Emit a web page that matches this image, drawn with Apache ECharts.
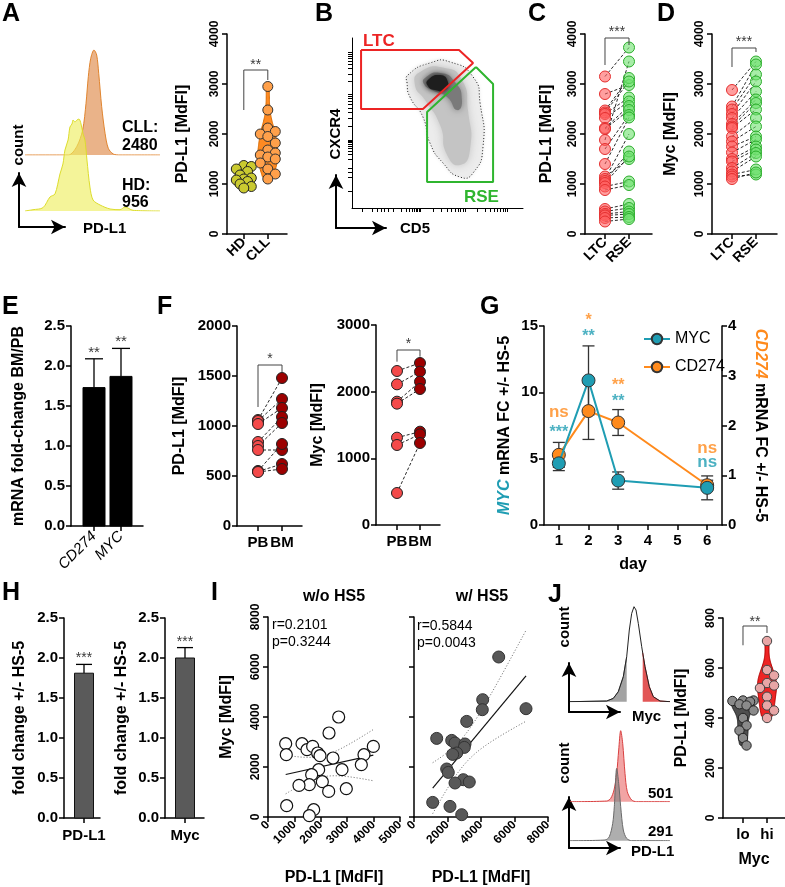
<!DOCTYPE html>
<html><head><meta charset="utf-8">
<script src="https://cdn.jsdelivr.net/npm/echarts@6/dist/echarts.min.js"></script>
<style>html,body{margin:0;padding:0;background:#fff}#c{width:785px;height:887px}</style>
</head><body><div id="c"></div><script>
// ---------------- DATA ----------------
// A
const histA_HD = [[0,0],[5.9,1.3],[13.3,3.3],[18.5,14],[22.2,17],[25.9,37],[28.1,47],[29.6,61],[31.9,71],[33.3,84],[34.8,87],[35.6,91],[37,89],[38.5,91],[40,92],[41.5,87],[43,77],[44.4,71],[45.9,51],[48.1,24],[50.4,11],[55.6,6],[63,2],[70.4,1.3],[74.1,4],[80,0.7],[100,0]];
const histA_CLL = [[0,0],[32.1,0],[38.3,8.3],[42.7,25],[45.2,51.7],[46.9,78.3],[48.7,96.7],[51.1,105],[53.1,100],[54.6,81.7],[56.8,48.3],[59.3,21.7],[61.7,6.7],[65.4,1],[70.4,0],[100,0]];
const catsA = ['HD','CLL'];
const pdl1_HD = [1370,1350,1300,1250,1180,1120,1100,1080,1050,1000,950,920];
const pdl1_CLL = [2950,2480,2120,2050,2000,1950,1820,1680,1620,1580,1540,1500,1420,1300,1200,1100];
// B (arbitrary 0-100 biexponential display units)
const gateLTC = [[5.3,92.9],[62.6,92.9],[70.8,85.3],[41.5,58.2],[5.3,58.2],[5.3,92.9]];
const gateRSE = [[72.5,82.9],[82.5,72.9],[82.5,15.3],[43.9,15.3],[43.9,56.5],[72.5,82.9]];
const densOuter = [[32.7,78.2],[45.6,85.3],[57.3,85.9],[70.8,77.1],[74.9,61.8],[76.6,35.9],[70.8,20.6],[63.2,18.2],[53.2,26.5],[45.6,38.2],[41.5,53.5],[33.9,65.3],[32.2,73.5]];
const densMid = [[39.8,80.0],[54.4,82.4],[64.3,75.3],[67.8,57.6],[69,34.1],[63.2,25.3],[55.6,31.2],[51.5,48.8],[42.7,63.5],[36.8,72.4]];
const densInner = [[42.7,76.5],[51.5,79.4],[60.2,74.1],[64.3,63.5],[61.4,57.6],[55.6,65.3],[46.8,69.4],[42.1,72.9]];
const densCore = [[44.4,75.3],[51.5,78.2],[56.1,74.1],[54.4,69.4],[48.5,69.4],[44.4,71.8]];
// C
const catsCD = ['LTC','RSE'];
const pdl1_LTC = [3150,2800,2470,2430,2400,2320,2120,2100,1880,1700,1400,1150,1100,1060,1020,950,880,500,450,400,370,320,250];
const pdl1_RSE = [3730,2980,3120,3050,2730,2650,2560,2480,3450,2380,2330,1500,2000,1650,1550,1050,980,600,520,450,400,340,300];
// D
const myc_LTC = [2880,2550,2490,2400,2320,2200,2150,2120,1950,1850,1750,1630,1500,1450,1320,1250,1190,1150,1100];
const myc_RSE = [3450,3390,3190,3050,2850,2690,2620,2490,2320,2150,1950,1890,1750,1690,1620,1550,1290,1190,1230];
// E
const catsE = ['CD274','MYC'];
const foldE = [1.73,1.87];
const errE = [0.36,0.35];
// F
const catsF = ['PB','BM'];
const pdl1_PB = [1060,1050,1020,840,800,760,550,545,540];
const pdl1_BM = [1480,1270,1180,1090,1030,760,820,620,570];
const myc_PB = [2310,2110,1850,1820,1310,1200,480];
const myc_BM = [2430,2300,2150,2040,1400,1360,1230];
// G
const days = [1,2,3,6];
const dayTicks = [1,2,3,4,5,6];
const mycFC = [4.65,10.9,3.35,2.8];
const mycErr = [0.55,2.6,0.65,0.9];
const cd274FC = [1.41,2.29,2.06,0.80];
const cd274Err = [0.25,0.57,0.26,0.1];
const sigDay = [1,1,2,2,3,3,6,6];
const sigText = ['ns','***','*','**','**','**','ns','ns'];
const sigGene = ['CD274','MYC','CD274','MYC','CD274','MYC','CD274','MYC'];
const sigY = [8.5,7.3,15.7,14.5,10.8,9.65,5.8,4.75];
// H
const catsH = ['PD-L1','Myc'];
const foldH = [1.81,2.0];
const errH = [0.11,0.13];
// I
const noHS5_pdl1 = [670,693,1288,1477,1692,1881,1970,2311,2462,2677,3990,3636,3535,2803,1919,1654,1566,1174,2058,2298,2966,707,1730,1566];
const noHS5_myc  = [2932,2492,2932,2692,2824,2560,2452,3360,2360,4000,2824,2492,2092,1892,1892,1692,1292,1264,1412,1024,1132,452,292,52];
const HS5_pdl1 = [5057,4101,4078,6687,3146,1355,2251,2448,3045,3003,2549,2310,1952,2048,2943,3301,2448,1116,2149,2848];
const HS5_myc  = [6400,4692,4292,4332,3824,3144,3064,2960,2920,2784,2560,2504,1920,1784,1492,1400,1360,584,424,92];
// J
const jMycHist = [[0,0],[36.7,0.7],[43.3,3.3],[48.3,10],[53.3,25],[56.7,45],[59.3,71.7],[61.7,88.3],[64,95],[66,91.7],[68.3,78.3],[71.7,55],[75,35],[79.3,15],[83.3,5],[90,0.7],[100,0]];
const jGates = [56.7,72.7];
const jHiHist = [[0,0],[36.7,0.7],[40.7,3.3],[44,11.7],[46.7,28.3],[48.7,51.7],[50.7,71],[52.7,58.3],[55,28.3],[57.3,10],[61.7,1.7],[66.7,0],[100,0]];
const jLoHist = [[0,0],[35,0.7],[39.3,4],[42.7,17.3],[44.3,34],[46.7,72.3],[48.7,57.3],[50.7,34],[53.3,10.7],[56.7,2.3],[61.7,0],[100,0]];
const catsJ = ['lo','hi'];
const pdl1_lo = [470,470,468,465,455,450,430,400,370,350,320,290];
const pdl1_hi = [708,592,570,540,530,520,485,450,430,400];

// ---------------- HELPERS ----------------
const FONT = '"Liberation Sans", Arial, Helvetica, sans-serif';
const TEAL = '#1f9db3', ORANGE = '#ff8a1c';
const grid=[], xAxis=[], yAxis=[], series=[], graphic=[];
function addGrid(l,t,w,h){grid.push({left:l,top:t,width:w,height:h,containLabel:false,outerBoundsMode:'none'});return grid.length-1;}
function mkAxis(o){
  const a={type:'value',gridIndex:o.grid,min:o.min,max:o.max,position:o.position,
    axisLine:{show:true,onZero:false,lineStyle:{color:'#000',width:o.lw||1.5}},
    axisTick:{show:o.tick!==false,length:o.tickLen||5,lineStyle:{color:'#000',width:o.lw||1.5}},
    axisLabel:{show:o.label!==false,color:'#000',fontFamily:FONT,fontWeight:o.fw||'bold',fontStyle:o.fs||'normal',fontSize:o.size||14,rotate:o.rotate||0,margin:o.margin!=null?o.margin:6,hideOverlap:false,
      formatter:o.fmt||(v=>String(v))},
    splitLine:{show:false},minorTick:{show:false},
    name:o.name||'',nameLocation:'middle',nameGap:o.nameGap||30,nameMoveOverlap:false,
    nameTextStyle:{color:'#000',fontFamily:FONT,fontWeight:'bold',fontSize:o.nameSize||16,rich:o.rich}};
  if(o.nameRotate!=null)a.nameRotate=o.nameRotate;
  if(o.interval!=null)a.interval=o.interval;
  if(o.ticks){a.axisTick.customValues=o.ticks;a.axisLabel.customValues=o.ticks;}
  return a;
}
function addX(o){xAxis.push(mkAxis(o));return xAxis.length-1;}
function addY(o){yAxis.push(mkAxis(o));return yAxis.length-1;}
function hidX(g,min,max){xAxis.push({type:'value',gridIndex:g,min,max,show:false});return xAxis.length-1;}
function hidY(g,min,max){yAxis.push({type:'value',gridIndex:g,min,max,show:false});return yAxis.length-1;}
function arrowAxes(g){
  const ax={type:'value',gridIndex:g,min:0,max:1,axisLine:{show:true,onZero:false,symbol:['none','arrow'],symbolSize:[11,14],lineStyle:{color:'#000',width:2}},axisTick:{show:false},axisLabel:{show:false},splitLine:{show:false}};
  xAxis.push(JSON.parse(JSON.stringify(ax)));yAxis.push(JSON.parse(JSON.stringify(ax)));
}
function kde(vals,steps){
  const n=vals.length,mean=vals.reduce((a,b)=>a+b,0)/n;
  const sd=Math.sqrt(vals.reduce((a,b)=>a+(b-mean)*(b-mean),0)/(n-1));
  const h=1.06*sd*Math.pow(n,-0.2)*0.75;
  const lo=Math.min(...vals),hi=Math.max(...vals),out=[];
  for(let i=0;i<=steps;i++){const y=lo+(hi-lo)*i/steps;let d=0;vals.forEach(v=>{d+=Math.exp(-0.5*Math.pow((y-v)/h,2));});out.push([y,d]);}
  const m=Math.max(...out.map(p=>p[1]));
  return out.map((p,i)=>{const e=(i===0||i===steps)?0.6:1;return [p[0],p[1]/m*e];});
}
function violin(xi,yi,xPos,vals,fill,stroke,halfW){
  const prof=kde(vals,40);
  return {type:'custom',xAxisIndex:xi,yAxisIndex:yi,clip:false,silent:true,z:2,data:[[xPos,vals[0]]],
    renderItem:(p,api)=>{const L=[],R=[];prof.forEach(([y,d])=>{const c=api.coord([xPos,y]);L.push([c[0]-d*halfW,c[1]]);R.push([c[0]+d*halfW,c[1]]);});
      return {type:'polygon',shape:{points:L.concat(R.reverse()),smooth:0.2},style:{fill,stroke,lineWidth:1}};}};
}
function swarmS(xi,yi,xPos,vals,fill,stroke,r,maxOff){
  return {type:'custom',xAxisIndex:xi,yAxisIndex:yi,clip:false,silent:true,z:3,data:[[xPos,vals[0]]],
    renderItem:(p,api)=>{const placed=[];
      vals.slice().sort((a,b)=>b-a).forEach(v=>{const c=api.coord([xPos,v]);const cands=[0];for(let k=1;k<=8;k++){const d=k*r*0.75;if(d<=maxOff)cands.push(d,-d);}
        let best=null,bestD=-1;
        for(const d of cands){const md=placed.length?Math.min(...placed.map(q=>Math.hypot(q[0]-(c[0]+d),q[1]-c[1]))):99;
          if(md>=1.6*r){best=d;break;} if(md>bestD){bestD=md;best=d;}}
        placed.push([c[0]+best,c[1]]);});
      return {type:'group',children:placed.map(q=>({type:'circle',shape:{cx:q[0],cy:q[1],r},style:{fill,stroke,lineWidth:1}}))};}};
}
function pairDots(xi,yi,a,b,fa,sa,fb,sb,size){
  series.push({type:'custom',xAxisIndex:xi,yAxisIndex:yi,clip:false,silent:true,z:2,data:a.map((v,i)=>[0,v,b[i]]),
    renderItem:(p,api)=>{const p1=api.coord([0,api.value(1)]),p2=api.coord([1,api.value(2)]);
      return {type:'line',shape:{x1:p1[0],y1:p1[1],x2:p2[0],y2:p2[1]},style:{stroke:'#111',lineWidth:0.9,lineDash:[3,2]}};}});
  series.push({type:'scatter',xAxisIndex:xi,yAxisIndex:yi,data:a.map(v=>[0,v]),symbolSize:size,z:3,silent:true,itemStyle:{color:fa,borderColor:sa,borderWidth:1,opacity:1}});
  series.push({type:'scatter',xAxisIndex:xi,yAxisIndex:yi,data:b.map(v=>[1,v]),symbolSize:size,z:3,silent:true,itemStyle:{color:fb,borderColor:sb,borderWidth:1,opacity:1}});
}
function bracket(xi,yi,x0,x1,yL,yTop,yR){
  series.push({type:'line',xAxisIndex:xi,yAxisIndex:yi,data:[[x0,yL],[x0,yTop],[x1,yTop],[x1,yR]],symbol:'none',silent:true,z:4,lineStyle:{color:'#444',width:1}});
}
function textMark(xi,yi,x,y,text,color,size,weight,dy){
  series.push({type:'scatter',xAxisIndex:xi,yAxisIndex:yi,data:[[x,y]],symbolSize:0,clip:false,silent:true,z:6,itemStyle:{color:'rgba(0,0,0,0)'},
    label:{show:true,position:'inside',formatter:text,color,fontFamily:FONT,fontSize:size,fontWeight:weight||'normal',offset:[0,dy||0]}});
}
function stars(xi,yi,x,y,text,size,color,weight){textMark(xi,yi,x,y,text,color||'#000',size,weight||'normal',size*0.27);}
function bars(xi,yi,xs,vals,w,fill,stroke){
  series.push({type:'custom',xAxisIndex:xi,yAxisIndex:yi,clip:false,silent:true,z:3,data:xs.map((x,i)=>[x,vals[i]]),
    renderItem:(p,api)=>{const t=api.coord([api.value(0),api.value(1)]),b=api.coord([api.value(0),0]);
      return {type:'rect',shape:{x:t[0]-w/2,y:t[1],width:w,height:b[1]-t[1]},style:{fill,stroke,lineWidth:1}};}});
}
function errBars(xi,yi,xs,vals,errs,cap,color,mode,z){
  series.push({type:'custom',xAxisIndex:xi,yAxisIndex:yi,clip:false,silent:true,z:z||2,data:xs.map((x,i)=>[x,vals[i],errs[i]]),
    renderItem:(p,api)=>{const x=api.value(0),v=api.value(1),e=api.value(2);const hi=api.coord([x,v+e]),lo=api.coord([x,mode==='up'?v:v-e]);
      const st={stroke:color,lineWidth:1.3};const ch=[{type:'line',shape:{x1:hi[0],y1:hi[1],x2:lo[0],y2:lo[1]},style:st},{type:'line',shape:{x1:hi[0]-cap,y1:hi[1],x2:hi[0]+cap,y2:hi[1]},style:st}];
      if(mode!=='up')ch.push({type:'line',shape:{x1:lo[0]-cap,y1:lo[1],x2:lo[0]+cap,y2:lo[1]},style:st});
      return {type:'group',children:ch};}});
}
function hist(xi,yi,data,line,fill,z,smooth){
  series.push({type:'line',xAxisIndex:xi,yAxisIndex:yi,data,smooth:smooth==null?0.3:smooth,symbol:'none',silent:true,z,lineStyle:{color:line,width:1},areaStyle:fill?{color:fill,opacity:1}:undefined});
}
function clipHist(d,lo,hi){const out=[];for(let i=0;i<d.length;i++){const [x,y]=d[i];if(x>=lo&&x<=hi)out.push([x,y]);if(i<d.length-1){const [x2,y2]=d[i+1];[lo,hi].forEach(b=>{if((x<b&&x2>b)){out.push([b,y+(y2-y)*(b-x)/(x2-x)]);}});}}
  out.sort((a,b)=>a[0]-b[0]);return out;}
function regression(xs,ys){
  const n=xs.length,mx=xs.reduce((a,b)=>a+b,0)/n,my=ys.reduce((a,b)=>a+b,0)/n;
  let sxx=0,sxy=0;xs.forEach((x,i)=>{sxx+=(x-mx)*(x-mx);sxy+=(x-mx)*(ys[i]-my);});
  const b=sxy/sxx,a=my-b*mx;let ss=0;xs.forEach((x,i)=>{ss+=Math.pow(ys[i]-a-b*x,2);});
  const s=Math.sqrt(ss/(n-2)),t=1.96+2.4/(n-2);
  const x0=Math.min(...xs),x1=Math.max(...xs),line=[],up=[],dn=[];
  for(let i=0;i<=30;i++){const x=x0+(x1-x0)*i/30,yh=a+b*x,w=t*s*Math.sqrt(1/n+(x-mx)*(x-mx)/sxx);line.push([x,yh]);up.push([x,yh+w]);dn.push([x,yh-w]);}
  return {line:[line[0],line[30]],up,dn};
}
function T(text,x,y,o){o=o||{};graphic.push({type:'text',x,y,rotation:o.rot||0,z:10,silent:true,
  style:{text,fill:o.color||'#000',fontFamily:FONT,fontSize:o.size||16,fontWeight:o.weight||'bold',fontStyle:o.style||'normal',align:o.align||'left',textAlign:o.align||'left',verticalAlign:o.valign||'middle',textVerticalAlign:o.valign||'middle'}});}

// ---------------- PANEL A ----------------
{
  const gC=addGrid(25,45,135,110);const xc=hidX(gC,0,100),yc=hidY(gC,0,110);
  hist(xc,yc,histA_CLL,'#e0842e','rgba(226,150,92,0.72)',2);
  const gH=addGrid(25,101,135,110);const xh=hidX(gH,0,100),yh=hidY(gH,0,110);
  hist(xh,yh,histA_HD,'#dcdc2c','rgba(238,238,90,0.62)',3);
  arrowAxes(addGrid(19,173,46,54));
  T('count',19,145,{rot:Math.PI/2,align:'center',size:15});
  T('PD-L1',83,229,{size:15});
  T('CLL:',122,128,{size:16});T('2480',122,146,{size:16});
  T('HD:',122,186,{size:16});T('956',122,203,{size:16});

  const g=addGrid(227,34,60,200);
  const xi=addX({grid:g,min:-0.7,max:1.8,ticks:[0,1],fmt:v=>catsA[v],rotate:45,size:14,margin:6});
  const yi=addY({grid:g,min:0,max:4000,interval:1000,rotate:90,size:12,name:'PD-L1 [MdFI]',nameGap:36});
  series.push(violin(xi,yi,0,pdl1_HD,'#a8a812','#5f5f00',11));
  series.push(violin(xi,yi,1,pdl1_CLL,'#ff8a22','#d86a00',10));
  series.push(swarmS(xi,yi,0,pdl1_HD,'#caca30','#222',5,9));
  series.push(swarmS(xi,yi,1,pdl1_CLL,'#ffa04a','#333',5,9));
  bracket(xi,yi,0,1,2480,3280,3080);
  stars(xi,yi,0.5,3460,'**',14);
}
// ---------------- PANEL B ----------------
{
  const g=addGrid(352,38,171,170);
  const logT=(dec,extra)=>{const t=extra.slice();for(let i=0;i<dec.length-1;i++){for(let k=1;k<10;k++)t.push(dec[i]+(dec[i+1]-dec[i])*Math.log10(k));}t.push(dec[dec.length-1]);return t;};
  const xi=addX({grid:g,min:0,max:100,ticks:logT([24,39.8,66.1,90.6],[5.8,11.7,14.6,17,19,21]),label:false,lw:1,tickLen:4});
  const yi=addY({grid:g,min:0,max:100,ticks:logT([23.5,40,67,91.8],[10,18,21]),label:false,lw:1,tickLen:4});
  const layers=[[densOuter,'#ececec','#222',[1,2],4],[densMid,'#c4c4c4',null,null,8],[densInner,'#7a7a7a',null,null,7],[densCore,'#1e1e1e',null,null,5]];
  series.push({type:'custom',xAxisIndex:xi,yAxisIndex:yi,clip:false,silent:true,z:2,data:[[50,50]],
    renderItem:(p,api)=>({type:'group',children:layers.map(L=>({type:'polygon',shape:{points:L[0].map(q=>api.coord(q)),smooth:0.6},
      style:{fill:L[1],stroke:L[2]||null,lineWidth:1,lineDash:L[3]||null,shadowBlur:L[4],shadowColor:L[1]}}))})});
  series.push({type:'line',xAxisIndex:xi,yAxisIndex:yi,data:gateLTC,symbol:'none',silent:true,z:4,lineStyle:{color:'#ec2424',width:2}});
  series.push({type:'line',xAxisIndex:xi,yAxisIndex:yi,data:gateRSE,symbol:'none',silent:true,z:4,lineStyle:{color:'#2fb52f',width:2}});
  arrowAxes(addGrid(336,175,50,53));
  T('CXCR4',336,134,{rot:Math.PI/2,align:'center',size:15});
  T('CD5',400,229,{size:15});
  T('LTC',363,41,{color:'#ec2424',size:17});
  T('RSE',464,197,{color:'#2fb52f',size:17});
}
// ---------------- PANEL C & D ----------------
{
  const g=addGrid(585,34,67,200);
  const xi=addX({grid:g,min:-0.833,max:1.958,ticks:[0,1],fmt:v=>catsCD[v],rotate:45,size:14});
  const yi=addY({grid:g,min:0,max:4000,interval:1000,rotate:90,size:12,name:'PD-L1 [MdFI]',nameGap:30});
  pairDots(xi,yi,pdl1_LTC,pdl1_RSE,'rgba(255,95,95,0.6)','#e53030','rgba(110,225,110,0.6)','#2cae2c',11);
  bracket(xi,yi,0,1,3380,3920,3780);
  stars(xi,yi,0.5,4120,'***',14);
  const g2=addGrid(712,34,65,200);
  const x2=addX({grid:g2,min:-0.833,max:1.875,ticks:[0,1],fmt:v=>catsCD[v],rotate:45,size:14});
  const y2=addY({grid:g2,min:0,max:4000,interval:1000,rotate:90,size:12,name:'Myc [MdFI]',nameGap:33});
  pairDots(x2,y2,myc_LTC,myc_RSE,'rgba(255,95,95,0.6)','#e53030','rgba(110,225,110,0.6)','#2cae2c',11);
  bracket(x2,y2,0,1,3340,3720,3640);
  stars(x2,y2,0.5,3920,'***',14);
}
// ---------------- PANEL E ----------------
{
  const g=addGrid(71,326,72,200);
  const xi=addX({grid:g,min:-0.852,max:1.815,ticks:[0,1],fmt:v=>catsE[v],rotate:45,size:15,fw:'normal',fs:'italic',margin:8});
  const yi=addY({grid:g,min:0,max:2.5,interval:0.5,size:15,fmt:v=>v.toFixed(1),name:'mRNA fold-change BM/PB',nameGap:44,nameSize:16});
  errBars(xi,yi,[0,1],foldE,errE,9,'#000','up',2);
  bars(xi,yi,[0,1],foldE,22,'#000','#000');
  stars(xi,yi,0,2.22,'**',15);stars(xi,yi,1,2.35,'**',15);
}
// ---------------- PANEL F ----------------
{
  const g=addGrid(237,326,65,200);
  const xi=addX({grid:g,min:-0.875,max:1.833,ticks:[0,1],fmt:v=>catsF[v],size:15,margin:9});
  const yi=addY({grid:g,min:0,max:2000,interval:500,size:15,name:'PD-L1 [MdFI]',nameGap:49});
  pairDots(xi,yi,pdl1_PB,pdl1_BM,'#f44a4a','#222','#9c0000','#222',11);
  bracket(xi,yi,0,1,1190,1610,1540);
  stars(xi,yi,0.5,1710,'*',14);
  const g2=addGrid(376,325,64,200);
  const x2=addX({grid:g2,min:-0.913,max:1.87,ticks:[0,1],fmt:v=>catsF[v],size:15,margin:9});
  const y2=addY({grid:g2,min:0,max:3000,interval:1000,size:15,name:'Myc [MdFI]',nameGap:50});
  pairDots(x2,y2,myc_PB,myc_BM,'#f44a4a','#222','#9c0000','#222',11);
  bracket(x2,y2,0,1,2450,2625,2525);
  stars(x2,y2,0.5,2775,'*',14);
}
// ---------------- PANEL G ----------------
{
  const g=addGrid(544,326,178,199);
  const xi=addX({grid:g,min:0.5,max:6.5,ticks:dayTicks,size:15,name:'day',nameGap:32,margin:8});
  const yl=addY({grid:g,min:0,max:15,interval:5,size:15,name:'{i|MYC} mRNA FC +/- HS-5',nameGap:31,
    rich:{i:{color:TEAL,fontStyle:'italic',fontWeight:'bold',fontSize:16,fontFamily:FONT}}});
  const yr=addY({grid:g,min:0,max:4,interval:1,size:15,position:'right',name:'{i|CD274} mRNA FC +/- HS-5',nameGap:30,nameRotate:-90,
    rich:{i:{color:ORANGE,fontStyle:'italic',fontWeight:'bold',fontSize:16,fontFamily:FONT}}});
  errBars(xi,yr,days,cd274FC,cd274Err,6,'#333','both',2);
  errBars(xi,yl,days,mycFC,mycErr,6,'#333','both',2);
  series.push({name:'CD274',type:'line',xAxisIndex:xi,yAxisIndex:yr,data:days.map((d,i)=>[d,cd274FC[i]]),symbol:'circle',symbolSize:13,z:4,
    lineStyle:{color:ORANGE,width:2},itemStyle:{color:ORANGE,borderColor:'#333',borderWidth:1}});
  series.push({name:'MYC',type:'line',xAxisIndex:xi,yAxisIndex:yl,data:days.map((d,i)=>[d,mycFC[i]]),symbol:'circle',symbolSize:13,z:5,
    lineStyle:{color:TEAL,width:2},itemStyle:{color:TEAL,borderColor:'#333',borderWidth:1}});
  sigText.forEach((t,i)=>{const c=sigGene[i]==='MYC'?TEAL:ORANGE;
    if(t==='ns')textMark(xi,yl,sigDay[i],sigY[i],t,c,17,'bold',0);else stars(xi,yl,sigDay[i],sigY[i],t,16,c,'bold');});
}
// ---------------- PANEL H ----------------
{
  const g=addGrid(64,618,36,200);
  const xi=addX({grid:g,min:-1,max:0.8,ticks:[0],fmt:v=>catsH[0],size:15,margin:10});
  const yi=addY({grid:g,min:0,max:2.5,interval:0.5,size:15,fmt:v=>v.toFixed(1),name:'fold change +/- HS-5',nameGap:36});
  errBars(xi,yi,[0],[foldH[0]],[errH[0]],8,'#000','up',2);
  bars(xi,yi,[0],[foldH[0]],19,'#5a5a5a','#111');
  stars(xi,yi,0,2.04,'***',14);
  const g2=addGrid(165,618,39,200);
  const x2=addX({grid:g2,min:-1,max:0.95,ticks:[0],fmt:v=>catsH[1],size:15,margin:10});
  const y2=addY({grid:g2,min:0,max:2.5,interval:0.5,size:15,fmt:v=>v.toFixed(1),name:'fold change +/- HS-5',nameGap:35});
  errBars(x2,y2,[0],[foldH[1]],[errH[1]],8,'#000','up',2);
  bars(x2,y2,[0],[foldH[1]],19,'#5a5a5a','#111');
  stars(x2,y2,0,2.25,'***',14);
}
// ---------------- PANEL I ----------------
{
  const g=addGrid(268,617,132,200);
  const xi=addX({grid:g,min:0,max:5000,interval:1000,rotate:45,size:12,name:'PD-L1 [MdFI]',nameGap:53});
  const yi=addY({grid:g,min:0,max:8000,interval:2000,rotate:90,size:12,name:'Myc [MdFI]',nameGap:33});
  const r1=regression(noHS5_pdl1,noHS5_myc);
  [r1.up,r1.dn].forEach(d=>series.push({type:'line',xAxisIndex:xi,yAxisIndex:yi,data:d,symbol:'none',silent:true,z:2,lineStyle:{color:'#666',width:1,type:[1,2]}}));
  series.push({type:'line',xAxisIndex:xi,yAxisIndex:yi,data:r1.line,symbol:'none',silent:true,z:2,lineStyle:{color:'#111',width:1.2}});
  series.push({type:'scatter',xAxisIndex:xi,yAxisIndex:yi,data:noHS5_pdl1.map((x,i)=>[x,noHS5_myc[i]]),symbolSize:12,z:3,silent:true,itemStyle:{color:'#fff',borderColor:'#111',borderWidth:1.2,opacity:1}});
  const g2=addGrid(414,617,134,200);
  const x2=addX({grid:g2,min:0,max:8000,interval:2000,rotate:45,size:12,name:'PD-L1 [MdFI]',nameGap:53});
  const y2=addY({grid:g2,min:0,max:8000,interval:2000,label:false});
  const r2=regression(HS5_pdl1,HS5_myc);
  [r2.up,r2.dn].forEach(d=>series.push({type:'line',xAxisIndex:x2,yAxisIndex:y2,data:d,symbol:'none',silent:true,z:2,lineStyle:{color:'#666',width:1,type:[1,2]}}));
  series.push({type:'line',xAxisIndex:x2,yAxisIndex:y2,data:r2.line,symbol:'none',silent:true,z:2,lineStyle:{color:'#111',width:1.2}});
  series.push({type:'scatter',xAxisIndex:x2,yAxisIndex:y2,data:HS5_pdl1.map((x,i)=>[x,HS5_myc[i]]),symbolSize:12,z:3,silent:true,itemStyle:{color:'#585858',borderColor:'#333',borderWidth:1,opacity:1}});
  T('w/o HS5',334,597,{align:'center',size:16});
  T('w/ HS5',482,597,{align:'center',size:16});
  T('r=0.2101',272,625,{weight:'normal',size:14});T('p=0.3244',272,642,{weight:'normal',size:14});
  T('r=0.5844',417,626,{weight:'normal',size:14});T('p=0.0043',417,643,{weight:'normal',size:14});
}
// ---------------- PANEL J ----------------
{
  const gT=addGrid(570,601.7,100,100);const xt=hidX(gT,0,100),yt=hidY(gT,0,100);
  hist(xt,yt,clipHist(jMycHist,0,jGates[0]),'#777','#a3a3a3',2,0);
  hist(xt,yt,clipHist(jMycHist,jGates[1],100),'#d93c3c','#e25656',2,0);
  hist(xt,yt,jMycHist,'#222',null,3,0);
  arrowAxes(addGrid(569,663,51,49));
  T('count',565,627,{rot:Math.PI/2,align:'center',size:15});
  T('Myc',632,717,{size:15});
  const gR=addGrid(570,701.7,100,100);const xr=hidX(gR,0,100),yr=hidY(gR,0,100);
  hist(xr,yr,jHiHist,'#d94040','rgba(232,90,90,0.55)',2,0.3);
  const gG=addGrid(570,740.7,100,100);const xg=hidX(gG,0,100),yg=hidY(gG,0,100);
  hist(xg,yg,jLoHist,'#6a6a6a','rgba(130,130,130,0.65)',3,0.3);
  arrowAxes(addGrid(569,797,51,51));
  T('count',565,763,{rot:Math.PI/2,align:'center',size:15});
  T('PD-L1',631,852,{size:15});
  T('501',673,794,{align:'right',size:15});T('291',673,832,{align:'right',size:15});

  const g=addGrid(723,618,62,200);
  const xi=addX({grid:g,min:-0.833,max:1.75,ticks:[0,1],fmt:v=>catsJ[v],size:15,margin:9,name:'Myc',nameGap:34});
  const yi=addY({grid:g,min:0,max:800,interval:200,rotate:90,size:12,name:'PD-L1 [MdFI]',nameGap:33});
  series.push(violin(xi,yi,0,pdl1_lo,'#4f4f4f','#222',11.5));
  series.push(violin(xi,yi,1,pdl1_hi,'#ee2424','#b00000',9.5));
  series.push(swarmS(xi,yi,0,pdl1_lo,'#8a8a8a','#222',4.7,12));
  series.push(swarmS(xi,yi,1,pdl1_hi,'#e8a6a6','#444',4.7,9));
  bracket(xi,yi,0,1,691,768,740);
  stars(xi,yi,0.5,799,'**',14);
}
// panel letters
[['A',2,14],['B',315,14],['C',528,14],['D',657,14],['E',2,307],['F',157,307],['G',480,307],['H',2,593],['I',211,593],['J',548,595]]
  .forEach(l=>T(l[0],l[1],l[2],{size:25}));

const chart=echarts.init(document.getElementById('c'),null,{width:785,height:887});
chart.setOption({animation:false,backgroundColor:'#fff',textStyle:{fontFamily:FONT},grid,xAxis,yAxis,series,graphic,
  legend:{data:['MYC','CD274'],left:638,top:326,orient:'vertical',itemWidth:26,itemHeight:13,itemGap:12,selectedMode:false,
    textStyle:{color:'#000',fontFamily:FONT,fontSize:16}}});
</script></body></html>
